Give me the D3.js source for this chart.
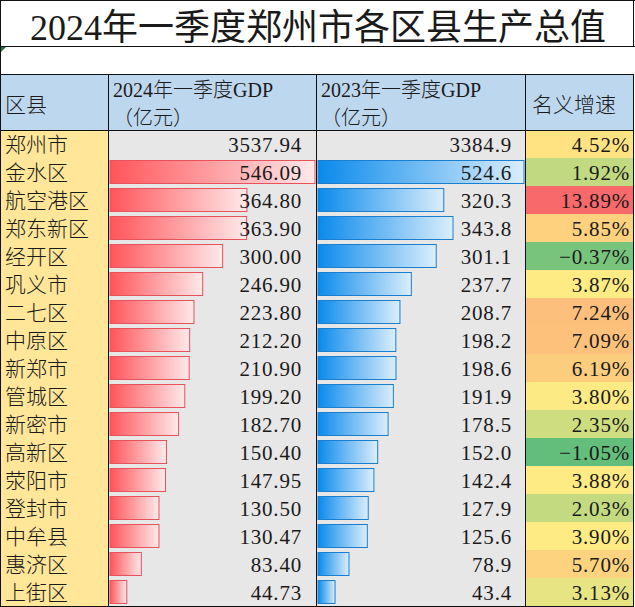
<!DOCTYPE html>
<html>
<head>
<meta charset="utf-8">
<script src="https://cdn.jsdelivr.net/npm/d3@7"></script>
<style>
  html, body { margin: 0; padding: 0; background: #ffffff; }
  svg { display: block; }
  text { font-family: "Liberation Serif", "Noto Sans CJK SC", serif; fill: #1a1a1a; }
</style>
</head>
<body>
<div id="chart"></div>
<script>
// ---------- data ----------
const titleText = "2024年一季度郑州市各区县生产总值";
const headers = ["区县", "2024年一季度GDP", "2023年一季度GDP", "名义增速"];
const headerUnit = "（亿元）";
const districts = ["郑州市", "金水区", "航空港区", "郑东新区", "经开区", "巩义市", "二七区", "中原区",
  "新郑市", "管城区", "新密市", "高新区", "荥阳市", "登封市", "中牟县", "惠济区", "上街区"];
const gdp2024 = [3537.94, 546.09, 364.80, 363.90, 300.00, 246.90, 223.80, 212.20, 210.90,
  199.20, 182.70, 150.40, 147.95, 130.50, 130.47, 83.40, 44.73];
const gdp2023 = [3384.9, 524.6, 320.3, 343.8, 301.1, 237.7, 208.7, 198.2, 198.6,
  191.9, 178.5, 152.0, 142.4, 127.9, 125.6, 78.9, 43.4];
const growth = [4.52, 1.92, 13.89, 5.85, -0.37, 3.87, 7.24, 7.09, 6.19, 3.80, 2.35,
  -1.05, 3.88, 2.03, 3.90, 5.70, 3.13];

// ---------- layout ----------
const W = 635, H = 607;
const colX = [0, 108, 316, 525, 633];
const titleBottom = 46, blankBottom = 74, headerBottom = 130, rowH = 28;

const svg = d3.select("#chart").append("svg").attr("width", W).attr("height", H);
const defs = svg.append("defs");

const gRed = defs.append("linearGradient").attr("id", "gradRed");
gRed.append("stop").attr("offset", "0%").attr("stop-color", "#ff555a");
gRed.append("stop").attr("offset", "100%").attr("stop-color", "#ffe9ea");
const gBlue = defs.append("linearGradient").attr("id", "gradBlue");
gBlue.append("stop").attr("offset", "0%").attr("stop-color", "#0a8aec");
gBlue.append("stop").attr("offset", "100%").attr("stop-color", "#dbeefc");

const yRow = d3.scaleBand().domain(d3.range(districts.length))
  .range([headerBottom, headerBottom + rowH * districts.length]).padding(0);

// bar scales (total row excluded, like Excel data bars on district rows)
const barIdx = d3.range(1, districts.length);
const x24 = d3.scaleLinear().domain([0, d3.max(barIdx, i => gdp2024[i])]).range([0, colX[2] - colX[1] - 3]);
const x23 = d3.scaleLinear().domain([0, d3.max(barIdx, i => gdp2023[i])]).range([0, colX[3] - colX[2] - 3]);
const colorGrowth = d3.scaleLinear()
  .domain([d3.min(growth), d3.median(growth), d3.max(growth)])
  .range(["#63be7b", "#ffeb84", "#f8696b"]);

const f2 = d3.format(".2f"), f1 = d3.format(".1f");

// ---------- title ----------
svg.append("rect").attr("x", 0).attr("y", 0).attr("width", W).attr("height", blankBottom).attr("fill", "#ffffff");
svg.append("text").attr("x", 318).attr("y", 40).attr("text-anchor", "middle")
  .attr("font-size", 36).text(titleText);

// ---------- header ----------
svg.append("rect").attr("x", 0).attr("y", blankBottom).attr("width", colX[4])
  .attr("height", headerBottom - blankBottom).attr("fill", "#bdd7ee");
svg.append("text").attr("x", 5).attr("y", 112).attr("font-size", 21).attr("font-weight", 300).text(headers[0]);
[1, 2].forEach(c => {
  svg.append("text").attr("x", colX[c] + 5).attr("y", 97).attr("font-size", 20).attr("font-weight", 300).text(headers[c]);
  svg.append("text").attr("x", colX[c] + 5).attr("y", 125).attr("font-size", 20).attr("font-weight", 300).text(headerUnit);
});
svg.append("text").attr("x", colX[3] + 7).attr("y", 112).attr("font-size", 21).attr("font-weight", 300).text(headers[3]);

// ---------- body backgrounds ----------
const rows = svg.append("g").selectAll("g").data(districts).join("g")
  .attr("transform", (d, i) => `translate(0,${yRow(i)})`);

rows.append("rect").attr("x", colX[0]).attr("y", 0).attr("width", colX[1] - colX[0]).attr("height", rowH).attr("fill", "#ffe699");
rows.append("rect").attr("x", colX[1]).attr("y", 0).attr("width", colX[3] - colX[1]).attr("height", rowH).attr("fill", "#e8e7e7");
rows.append("rect").attr("x", colX[3]).attr("y", 0).attr("width", colX[4] - colX[3]).attr("height", rowH)
  .attr("fill", (d, i) => colorGrowth(growth[i]));

// data bars
rows.filter((d, i) => i > 0).append("rect")
  .attr("x", colX[1] + 2).attr("y", 2.5).attr("height", 23)
  .attr("width", (d, i) => x24(gdp2024[i + 1]))
  .attr("fill", "url(#gradRed)").attr("stroke", "#e8525a").attr("stroke-width", 1);
rows.filter((d, i) => i > 0).append("rect")
  .attr("x", colX[2] + 2).attr("y", 2.5).attr("height", 23)
  .attr("width", (d, i) => x23(gdp2023[i + 1]))
  .attr("fill", "url(#gradBlue)").attr("stroke", "#1a7fd0").attr("stroke-width", 1);

// texts
rows.append("text").attr("x", 5).attr("y", 22).attr("font-size", 21).attr("font-weight", 300).text(d => d);
rows.append("text").attr("x", 302).attr("y", 22).attr("font-size", 21).attr("text-anchor", "end")
  .attr("letter-spacing", 0.8).text((d, i) => f2(gdp2024[i]));
rows.append("text").attr("x", 512).attr("y", 22).attr("font-size", 21).attr("text-anchor", "end")
  .attr("letter-spacing", 0.8).text((d, i) => f1(gdp2023[i]));
rows.append("text").attr("x", 630).attr("y", 22).attr("font-size", 21).attr("text-anchor", "end")
  .attr("letter-spacing", 0.8).text((d, i) => f2(growth[i]) + "%");

// ---------- borders ----------
const lines = svg.append("g").attr("stroke", "#111").attr("stroke-width", 1.2).attr("shape-rendering", "crispEdges");
lines.append("line").attr("x1", 0).attr("x2", W).attr("y1", 0.5).attr("y2", 0.5);
lines.append("line").attr("x1", 0).attr("x2", W).attr("y1", titleBottom + 0.5).attr("y2", titleBottom + 0.5);
lines.append("line").attr("x1", 0).attr("x2", colX[4]).attr("y1", blankBottom + 0.5).attr("y2", blankBottom + 0.5);
lines.append("line").attr("x1", 0).attr("x2", colX[4]).attr("y1", headerBottom + 0.5).attr("y2", headerBottom + 0.5);
lines.append("line").attr("x1", 0.5).attr("x2", 0.5).attr("y1", 0).attr("y2", H);
colX.slice(1).forEach(x => {
  lines.append("line").attr("x1", x + 0.5).attr("x2", x + 0.5).attr("y1", blankBottom).attr("y2", H);
});
lines.append("line").attr("x1", 0).attr("x2", colX[4]).attr("y1", H - 0.5).attr("y2", H - 0.5);
lines.append("line").attr("x1", colX[4] + 0.5).attr("x2", colX[4] + 0.5).attr("y1", 0).attr("y2", titleBottom);

// small Excel error indicator
svg.append("path").attr("d", `M1,${titleBottom + 1} L6,${titleBottom + 1} L1,${titleBottom + 6} Z`).attr("fill", "#1e7145");
</script>
</body>
</html>
